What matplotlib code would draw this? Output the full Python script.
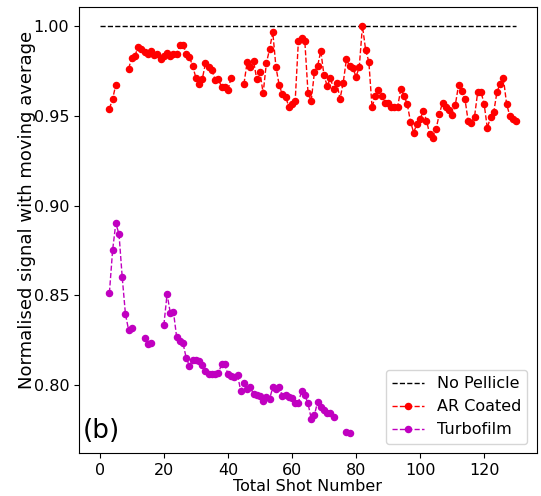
import numpy as np
import matplotlib
matplotlib.use("Agg")
import matplotlib.pyplot as plt

nan = np.nan

# No Pellicle reference
ref_x = [0, 130]
ref_y = [1.0, 1.0]

# AR Coated (shots 3..130)
ar_x = list(range(3, 131))
ar_y = [
    0.9539, 0.9593, 0.9673, nan, nan, nan,                     # 3-8
    0.9762, 0.9824, 0.9835, 0.9885, 0.9870, 0.9857, 0.9842,    # 9-15
    0.9861, 0.9837, 0.9842, 0.9816, 0.9835, 0.9848, 0.9833,    # 16-22
    0.9842, 0.9846, 0.9892, 0.9896, 0.9844, 0.9827, 0.9775,    # 23-29
    0.9712, 0.9677, 0.9705, 0.9792, 0.9773, 0.9755, 0.9701,    # 30-36
    0.9703, 0.9662, 0.9658, 0.9642, 0.9710, nan, nan, nan,     # 37-44
    0.9677, 0.9798, 0.9770, 0.9805, 0.9703, 0.9742, 0.9625,    # 45-51
    0.9792, 0.9870, 0.9965, 0.9770, 0.9671, 0.9619, 0.9606,    # 52-58
    0.9551, 0.9564, 0.9582, 0.9916, 0.9935, 0.9918, 0.9629,    # 59-65
    0.9582, 0.9741, 0.9777, 0.9860, 0.9724, 0.9666, 0.9709,    # 66-72
    0.9649, 0.9682, 0.9594, 0.9684, 0.9814, 0.9775, 0.9765,    # 73-79
    0.9718, 0.9769, 1.0000, 0.9866, 0.9801, 0.9546, 0.9610,    # 80-86
    0.9641, 0.9612, 0.9573, 0.9573, 0.9551, 0.9551, 0.9551,    # 87-93
    0.9650, 0.9610, 0.9564, 0.9467, 0.9406, 0.9455, 0.9481,    # 94-100
    0.9526, 0.9473, 0.9397, 0.9378, 0.9427, 0.9509, 0.9573,    # 101-107
    0.9551, 0.9530, 0.9503, 0.9560, 0.9670, 0.9640, 0.9594,    # 108-114
    0.9471, 0.9461, 0.9495, 0.9634, 0.9634, 0.9565, 0.9430,    # 115-121
    0.9495, 0.9521, 0.9632, 0.9679, 0.9710, 0.9567, 0.9499,    # 122-128
    0.9483, 0.9471,                                            # 129-130
]

# Turbofilm (shots 3..78)
tf_x = list(range(3, 79))
tf_y = [
    0.8514, 0.8752, 0.8901, 0.8840, 0.8600, 0.8396, 0.8306,    # 3-9
    0.8319, nan, nan, nan, 0.8264, 0.8227, 0.8232,             # 10-16
    nan, nan, nan, 0.8334, 0.8507, 0.8403, 0.8407, 0.8266,     # 17-24
    0.8247, 0.8232, 0.8149, 0.8108, 0.8140, 0.8138, 0.8132,    # 25-31
    0.8110, 0.8080, 0.8060, 0.8060, 0.8060, 0.8065, 0.8115,    # 32-38
    0.8115, 0.8061, 0.8050, 0.8043, 0.8056, 0.7968, 0.8009,    # 39-45
    0.7976, 0.7987, 0.7950, 0.7944, 0.7939, 0.7913, 0.7931,    # 46-52
    0.7922, 0.7987, 0.7978, 0.7991, 0.7939, 0.7944, 0.7931,    # 53-59
    0.7926, 0.7901, 0.7901, 0.7967, 0.7944, 0.7898, 0.7814,    # 60-66
    0.7833, 0.7907, 0.7879, 0.7861, 0.7846, 0.7842, 0.7823,    # 67-73
    nan, nan, nan, 0.7738, 0.7734,                             # 74-78
]

fs = 11.5
fig = plt.figure(figsize=(5.41, 4.96), dpi=100)
ax = fig.add_axes([0.146, 0.086, 0.8466, 0.9005])

ax.plot(ref_x, ref_y, 'k--', lw=1.0, label='No Pellicle')
ax.plot(ar_x, ar_y, '--', color='red', marker='o', ms=4.4, lw=1.0, label='AR Coated')
ax.plot(tf_x, tf_y, '--', color='#c000c0', marker='o', ms=4.4, lw=1.0, label='Turbofilm')

ax.set_xlabel('Total Shot Number', fontsize=fs, labelpad=1)
ax.set_ylabel('Normalised signal with moving average', fontsize=13.0)
ax.yaxis.set_label_coords(-0.094, 0.545)
ax.set_xticks([0, 20, 40, 60, 80, 100, 120])
ax.set_yticks([0.80, 0.85, 0.90, 0.95, 1.00])
ax.tick_params(labelsize=fs)
ax.set_ylim(0.762, 1.0107)

ax.text(0.008, 0.02, '(b)', transform=ax.transAxes, fontsize=19, ha='left', va='bottom')
ax.legend(loc='lower right', fontsize=fs, handlelength=2.0, borderaxespad=0.6)

fig.savefig('out.png', dpi=100)
